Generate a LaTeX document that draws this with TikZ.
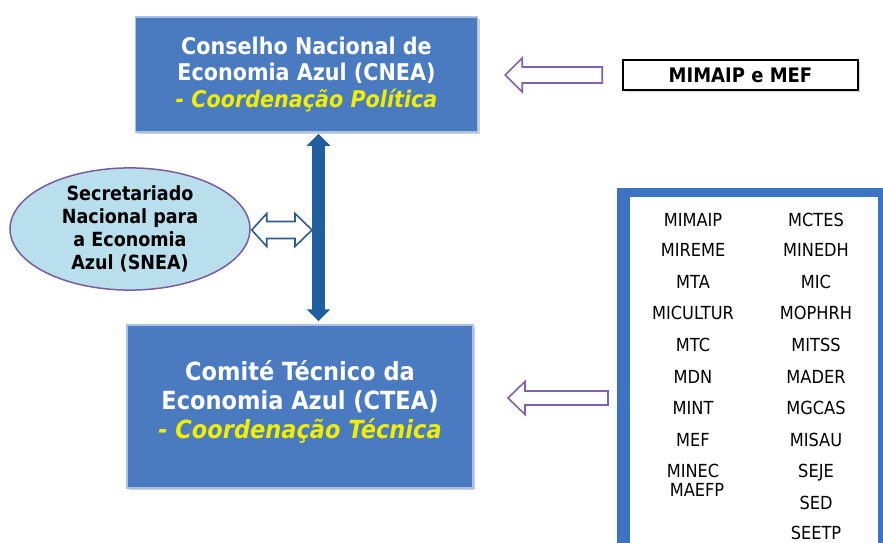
\documentclass[tikz,border=0pt]{standalone}
\usepackage{fontspec}
\setmainfont{DejaVu Sans}[FakeStretch=0.9]
\usetikzlibrary{shapes.geometric,arrows.meta,calc,shadows}
\definecolor{boxblue}{HTML}{4A7AC0}
\definecolor{boxedge}{HTML}{A9C1E3}
\definecolor{darkblue}{HTML}{1F5F9F}
\definecolor{outlineblue}{HTML}{2F5B8A}
\definecolor{purp}{HTML}{7E5FB0}
\definecolor{ellfill}{HTML}{B9DEEC}
\definecolor{elledge}{HTML}{7B5C9E}
\definecolor{yel}{HTML}{F2EE00}
\definecolor{listblue}{HTML}{3D73C2}
\begin{document}
\begin{tikzpicture}[x=1pt,y=-1pt,
  bluebox/.style={fill=boxblue, draw=boxedge, line width=1.5pt, inner sep=0pt,
    drop shadow={shadow xshift=2pt, shadow yshift=-2pt, opacity=0.35, fill=gray}},
  boxtext/.style={text=white, font=\bfseries, align=center, inner sep=0pt},
  hollowp/.style={draw=purp, fill=white, line width=1.6pt, line join=miter},
  hollowb/.style={draw=outlineblue, fill=white, line width=1.6pt, line join=miter},
  listitem/.style={font=\fontsize{18}{18}\selectfont, inner sep=0pt, text height=13pt, text depth=0pt, anchor=center}
]
\useasboundingbox (0,0) rectangle (883,543);
\fill[white] (0,0) rectangle (883,543);

% CNEA
\node[bluebox, minimum width=342pt, minimum height=115pt] (cnea) at (306.5,74.5) {};
\node[boxtext, font=\fontsize{23}{26.5}\selectfont\bfseries] (cneat) at (cnea.center)
  {Conselho Nacional de\\Economia Azul (CNEA)\\{\color{yel}\itshape - Coordenação Política}};

% CTEA
\node[bluebox, minimum width=346pt, minimum height=163pt] (ctea) at (300,406.5) {};
\node[boxtext, font=\fontsize{25}{29}\selectfont\bfseries] (cteat) at ($(ctea.center)+(0,-5)$)
  {Comité Técnico da\\Economia Azul (CTEA)\\{\color{yel}\itshape - Coordenação Técnica}};

% vertical double arrow
\coordinate (vx) at (318.5,0);
\draw[darkblue, line width=13pt,
  {Triangle[width=23pt,length=12pt]}-{Triangle[width=23pt,length=12pt]}]
  ($(cnea.south -| vx)+(0,1)$) -- ($(ctea.north -| vx)+(0,-3)$);

% ellipse SNEA
\node[ellipse, fill=ellfill, draw=elledge, line width=1.5pt, minimum width=240pt, minimum height=118pt, inner sep=0pt,
  align=center, font=\fontsize{19.5}{23}\selectfont\bfseries] (snea) at (130,229)
  {Secretariado\\Nacional para\\a Economia\\Azul (SNEA)};

% hollow double arrow between SNEA and the vertical arrow
\coordinate (dl) at ($(snea.east)+(1,1)$);
\coordinate (dr) at (312,230);
\draw[hollowb] (dl) -- ($(dl)+(15,-16.5)$) -- ($(dl)+(15,-8.5)$) -- ($(dr)+(-17,-8.5)$) -- ($(dr)+(-17,-16.5)$)
  -- (dr) -- ($(dr)+(-17,16.5)$) -- ($(dr)+(-17,8.5)$) -- ($(dl)+(15,8.5)$) -- ($(dl)+(15,16.5)$) -- cycle;

% MIMAIP e MEF box
\node[draw=black, fill=white, line width=1.5pt, minimum width=235pt, minimum height=30pt, inner sep=0pt,
  font=\fontsize{20}{20}\selectfont\bfseries,
  drop shadow={shadow xshift=2pt, shadow yshift=-2pt, opacity=0.3, fill=gray}] (mm) at (740.5,75) {MIMAIP e MEF};

% top purple arrow
\coordinate (pt1) at ($(cnea.east)+(27,0.5)$);
\coordinate (pe1) at ($(mm.west)+(-20,0)$);
\draw[hollowp] (pt1) -- ($(pt1)+(17,-17)$) -- ($(pt1)+(17,-8)$) -- ($(pe1)+(0,-8)$) -- ($(pe1)+(0,8)$)
  -- ($(pt1)+(17,8)$) -- ($(pt1)+(17,17)$) -- cycle;

% list box
\begin{scope}
\clip (0,0) rectangle (883,543);
\node[fill=listblue, minimum width=275pt, minimum height=370pt, inner sep=0pt, anchor=north west] (list) at (617,188) {};
\fill[white] (630,197) rectangle (878,560);
\end{scope}

% bottom purple arrow
\coordinate (pt2) at (508,398);
\coordinate (pe2) at ($(list.west |- pt2)+(-9,0)$);
\draw[hollowp] (pt2) -- ($(pt2)+(17,-16.5)$) -- ($(pt2)+(17,-7)$) -- ($(pe2)+(0,-7)$) -- ($(pe2)+(0,7)$)
  -- ($(pt2)+(17,7)$) -- ($(pt2)+(17,16.5)$) -- cycle;

% list items
\node[listitem] (l1) at (693,220) {MIMAIP};
\node[listitem] (l2) at (693,250) {MIREME};
\node[listitem] (l3) at (693,282) {MTA};
\node[listitem] (l4) at (693,313) {MICULTUR};
\node[listitem] (l5) at (693,345) {MTC};
\node[listitem] (l6) at (693,377) {MDN};
\node[listitem] (l7) at (693,408) {MINT};
\node[listitem] (l8) at (693,440) {MEF};
\node[listitem] (l9) at (693,471) {MINEC};
\node[listitem] (l10) at (697,490) {MAEFP};
\node[listitem] (r1) at (816,220) {MCTES};
\node[listitem] (r2) at (816,250) {MINEDH};
\node[listitem] (r3) at (816,282) {MIC};
\node[listitem] (r4) at (816,313) {MOPHRH};
\node[listitem] (r5) at (816,345) {MITSS};
\node[listitem] (r6) at (816,377) {MADER};
\node[listitem] (r7) at (816,408) {MGCAS};
\node[listitem] (r8) at (816,440) {MISAU};
\node[listitem] (r9) at (816,471) {SEJE};
\node[listitem] (r10) at (816,503) {SED};
\node[listitem] (r11) at (816,533) {SEETP};
\end{tikzpicture}
\end{document}
